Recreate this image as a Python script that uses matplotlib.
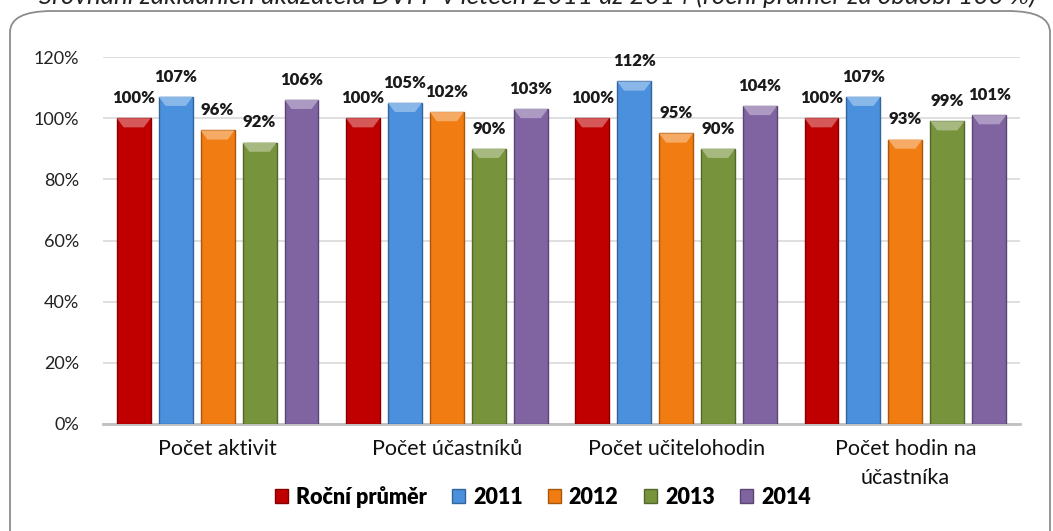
import matplotlib.pyplot as plt
import numpy as np
from matplotlib.patches import FancyBboxPatch, Polygon
from matplotlib import colors as mcolors

plt.rcParams['font.family'] = ['Lato', 'DejaVu Sans']

categories = ['Počet aktivit', 'Počet účastníků', 'Počet učitelohodin', 'Počet hodin na\núčastníka']
series = ['Roční průměr', '2011', '2012', '2013', '2014']
values = {
    'Roční průměr': [100, 100, 100, 100],
    '2011': [107, 105, 112, 107],
    '2012': [96, 102, 95, 93],
    '2013': [92, 90, 90, 99],
    '2014': [106, 103, 104, 101],
}
bar_colors = ['#C00000', '#4A90DC', '#F07C12', '#77933C', '#8064A2']
title = '7      Srovnání základních ukazatelů DVPP v letech 2011 až 2014 (roční průměr za období 100 %)'


def shade(c, f):
    r, g, b = mcolors.to_rgb(c)
    if f > 0:
        return (r + (1 - r) * f, g + (1 - g) * f, b + (1 - b) * f)
    return (r * (1 + f), g * (1 + f), b * (1 + f))


fig = plt.figure(figsize=(10.53, 5.31), dpi=100)

# rounded frame around the chart
frame = FancyBboxPatch((10 / 1053, -0.1), 1040 / 1053, (531 - 11) / 531 + 0.1,
                       boxstyle='round,pad=0,rounding_size=0.04',
                       transform=fig.transFigure, facecolor='white',
                       edgecolor='#8C8C8C', linewidth=1.3, zorder=-5)
fig.patches.append(frame)
fig.text(-0.012, 1.029, title, fontsize=18.7, style='italic', va='top', ha='left',
         color='#222222')

ax = fig.add_axes([103 / 1053, (531 - 424) / 531, (1020 - 103) / 1053, (424 - 57) / 531])
ax.set_facecolor('none')

x = np.arange(len(categories))
width = 0.148
pitch = 0.183
for i, s in enumerate(series):
    pos = x + (i - 2) * pitch
    vals = np.array(values[s])
    c = bar_colors[i]
    ax.bar(pos, vals, width, color=c, edgecolor=shade(c, -0.3), linewidth=1.0,
           label=s, zorder=3)
    for xp, v in zip(pos, vals):
        # light bevel at the top of each bar
        tri = Polygon([[xp - width / 2, v], [xp + width / 2, v], [xp + width / 2 - 0.03, v - 3],
                       [xp - width / 2 + 0.03, v - 3]], closed=True,
                      facecolor=shade(c, 0.35), edgecolor='none', zorder=4)
        ax.add_patch(tri)
        ax.text(xp, v + 4.0, f'{v}%', ha='center', va='bottom', fontsize=12,
                fontweight='heavy', color='#1a1a1a', zorder=5)

ax.set_ylim(0, 120)
ax.set_xlim(-0.5, len(categories) - 0.5)
ax.set_yticks(np.arange(0, 121, 20))
ax.set_yticklabels([f'{t}%' for t in range(0, 121, 20)])
ax.set_xticks(x)
ax.set_xticklabels(categories, fontsize=15.5, linespacing=1.55, va='top')
ax.tick_params(axis='y', length=0, pad=17, labelsize=13, labelcolor='#222222')
ax.tick_params(axis='x', length=0, pad=11, labelcolor='#111111')
ax.grid(axis='y', color='#D9D9D9', linewidth=1.2, zorder=0)
for sp in ['top', 'right', 'left']:
    ax.spines[sp].set_visible(False)
ax.spines['bottom'].set_color('#BFBFBF')
ax.spines['bottom'].set_linewidth(2)
ax.spines['bottom'].set_zorder(2)

fig.legend(loc='center', bbox_to_anchor=(543 / 1053, (531 - 497) / 531), ncol=5,
           frameon=False, prop={'weight': 'heavy', 'size': 15.5},
           handlelength=0.6, handleheight=0.6, handletextpad=0.35, columnspacing=1.2)

plt.savefig('out.png', dpi=100)
